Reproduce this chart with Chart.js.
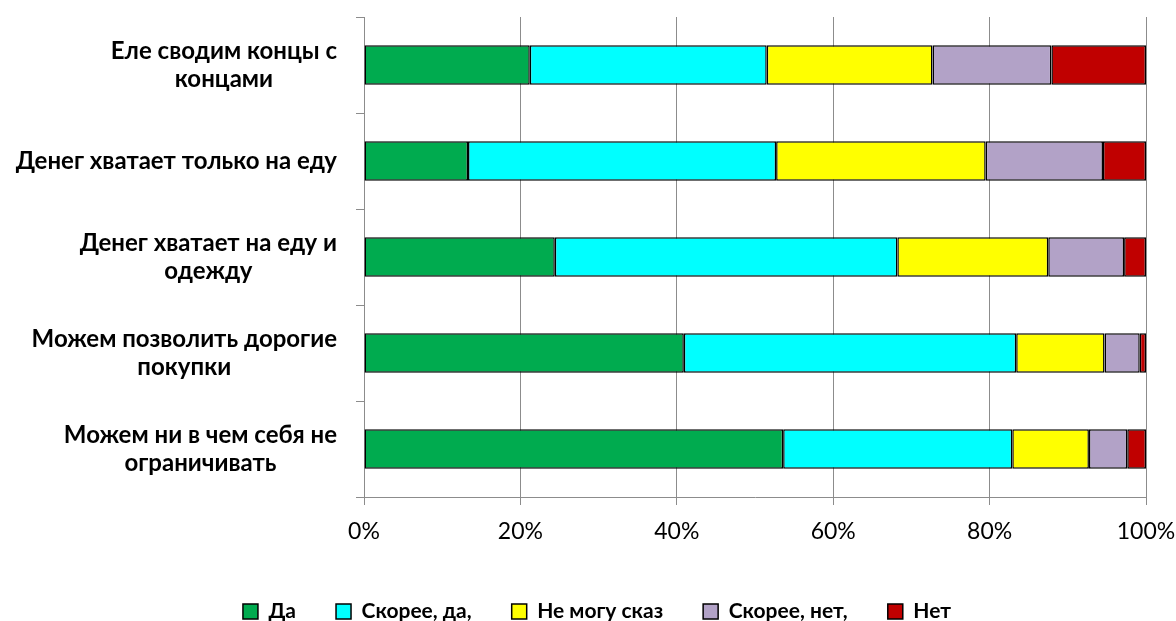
<!DOCTYPE html>
<html>
<head>
<meta charset="utf-8">
<script src="https://cdn.jsdelivr.net/npm/chart.js@4/dist/chart.umd.min.js"></script>
<style>
  html, body { margin: 0; padding: 0; background: #fff; }
  #wrap { width: 1176px; height: 621px; }
</style>
</head>
<body>
<div id="wrap"><canvas id="chart" width="1176" height="621"></canvas></div>
<script>
// category labels (split into lines as in the original)
const categories = [
  ['Еле сводим концы с', 'концами'],
  ['Денег хватает только на еду'],
  ['Денег хватает на еду и', 'одежду'],
  ['Можем позволить дорогие', 'покупки'],
  ['Можем ни в чем себя не', 'ограничивать']
]

const seriesNames = ['Да', 'Скорее, да,', 'Не могу сказ', 'Скорее, нет,', 'Нет']

// shares in percent, one value per category
const yes = [21.2, 13.3, 24.4, 40.9, 53.6]
const ratherYes = [30.3, 39.4, 43.8, 42.5, 29.3]
const cantSay = [21.2, 26.8, 19.3, 11.3, 9.8]
const ratherNo = [15.2, 15.0, 9.7, 4.5, 4.9]
const no = [12.1, 5.5, 2.8, 0.8, 2.4]

const xTicks = [0, 20, 40, 60, 80, 100]

const colours = ['#00ab4f', '#00ffff', '#ffff00', '#b2a2c7', '#c00000']
const seriesValues = [yes, ratherYes, cantSay, ratherNo, no]

const FONT = 'Lato, "Noto Sans", sans-serif'
const GRID = '#8c8c8c'

// draws the category labels: block right-aligned, lines centred inside it
const categoryLabels = {
  id: 'categoryLabels',
  afterDraw(chart) {
    const ctx = chart.ctx
    const yScale = chart.scales.y
    const right = 337
    const lineH = 28
    ctx.save()
    ctx.font = 'bold 24px ' + FONT
    ctx.fillStyle = '#000'
    ctx.textAlign = 'center'
    ctx.textBaseline = 'middle'
    categories.forEach((lines, i) => {
      const widest = Math.max(...lines.map(l => ctx.measureText(l).width))
      const cx = right - widest / 2
      const cy = yScale.getPixelForValue(i)
      const top = cy - (lines.length - 1) * lineH / 2
      lines.forEach((l, j) => ctx.fillText(l, cx, top + j * lineH))
    })
    ctx.restore()
  }
}

// the legend in the original sits a little right of centre
const shiftLegend = {
  id: 'shiftLegend',
  afterLayout(chart) {
    chart.legend.left += 24
    chart.legend.right += 24
  }
}

new Chart(document.getElementById('chart'), {
  type: 'bar',
  data: {
    labels: categories.map(c => c.join(' ')),
    datasets: seriesNames.map((name, i) => ({
      label: name,
      data: seriesValues[i],
      backgroundColor: colours[i],
      borderColor: '#000',
      borderWidth: 1.5,
      borderSkipped: false,
      barPercentage: 0.41,
      categoryPercentage: 1
    }))
  },
  options: {
    indexAxis: 'y',
    responsive: false,
    animation: false,
    devicePixelRatio: 1,
    layout: { padding: { top: 17, right: 30, bottom: -11, left: 0 } },
    scales: {
      x: {
        stacked: true,
        min: 0,
        max: 100,
        afterBuildTicks: scale => {
          scale.ticks = xTicks.map(v => ({ value: v }))
        },
        afterFit: scale => {
          scale.height = 64
          scale.paddingRight = 0
        },
        grid: { color: GRID, lineWidth: 1, tickLength: 8 },
        border: { color: GRID, width: 1 },
        ticks: {
          color: '#000',
          font: { family: FONT, size: 23 },
          padding: 13,
          callback: v => v + '%'
        }
      },
      y: {
        stacked: true,
        afterFit: scale => { scale.width = 364 },
        grid: { offset: true, drawOnChartArea: false, color: GRID, tickLength: 8 },
        border: { color: GRID, width: 1 },
        ticks: { display: false }
      }
    },
    plugins: {
      legend: {
        position: 'bottom',
        labels: {
          color: '#000',
          boxWidth: 15,
          boxHeight: 15,
          padding: 40,
          font: { family: FONT, size: 21, weight: 'bold' }
        }
      },
      tooltip: { enabled: false }
    }
  },
  plugins: [categoryLabels, shiftLegend]
})
</script>
</body>
</html>
